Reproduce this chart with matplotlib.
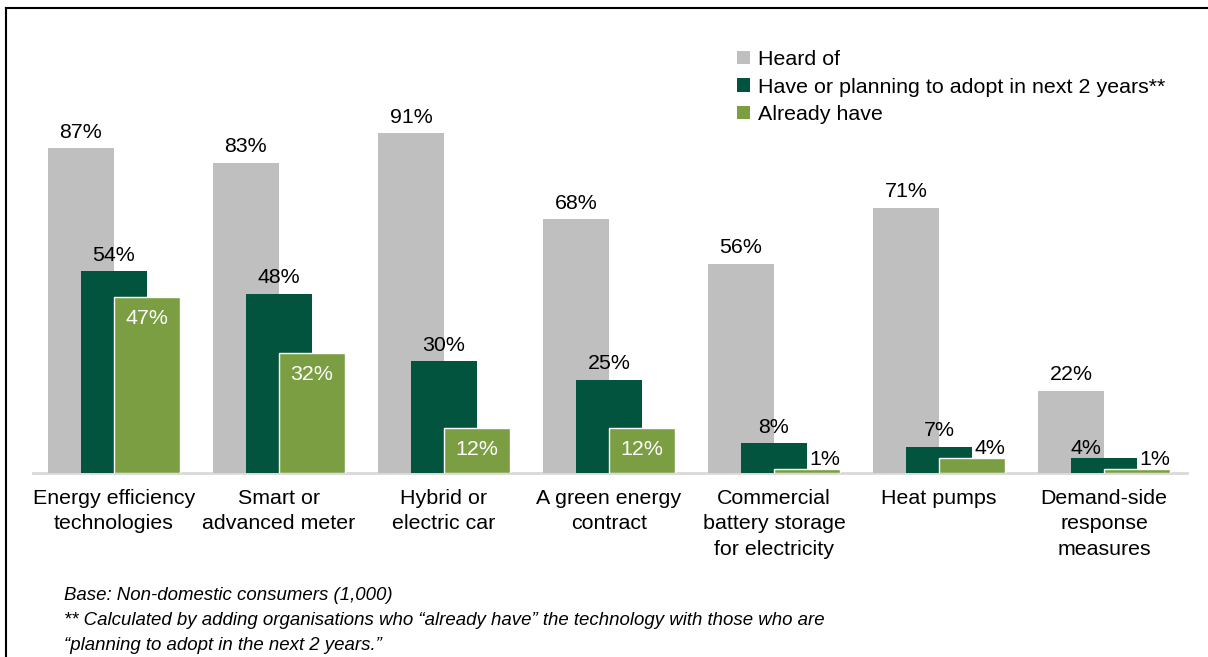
import matplotlib
matplotlib.use("Agg")
import matplotlib.pyplot as plt
from matplotlib.lines import Line2D
from matplotlib.patches import Patch
import numpy as np

plt.rcParams['font.family'] = ['Liberation Sans', 'DejaVu Sans']

categories = [
    "Energy efficiency\ntechnologies",
    "Smart or\nadvanced meter",
    "Hybrid or\nelectric car",
    "A green energy\ncontract",
    "Commercial\nbattery storage\nfor electricity",
    "Heat pumps",
    "Demand-side\nresponse\nmeasures",
]
heard_of = [87, 83, 91, 68, 56, 71, 22]
have_or_planning = [54, 48, 30, 25, 8, 7, 4]
already_have = [47, 32, 12, 12, 1, 4, 1]

series_names = ["Heard of", "Have or planning to adopt in next 2 years**", "Already have"]
footnotes = [
    "Base: Non-domestic consumers (1,000)",
    "** Calculated by adding organisations who \u201calready have\u201d the technology with those who are",
    "\u201cplanning to adopt in the next 2 years.\u201d",
]

GREY = "#BFBFBF"
DARK = "#03543F"
LIGHT = "#7B9E43"
FS = 15.4

W, H = 1208, 657
fig = plt.figure(figsize=(W / 100, H / 100), dpi=100)
ax = fig.add_axes([33 / W, (H - 473) / H, (1187 - 33) / W, (473 - 99.4) / H])

x = np.arange(len(categories))
bw = 0.4
b_grey = ax.bar(x - 0.2, heard_of, bw, color=GREY, zorder=2, linewidth=0)
b_dark = ax.bar(x, have_or_planning, bw, color=DARK, zorder=3, linewidth=0)
b_light = ax.bar(x + 0.2, already_have, bw, color=LIGHT, zorder=4,
                 edgecolor="white", linewidth=1.0)

ax.set_xlim(-0.49, 6.503)
ax.set_ylim(0, 100)
for s in ["top", "right", "left"]:
    ax.spines[s].set_visible(False)
ax.spines["bottom"].set_color("#D9D9D9")
ax.spines["bottom"].set_linewidth(2)
ax.spines["bottom"].set_zorder(1)
ax.set_yticks([])
ax.set_xticks(x)
ax.set_xticklabels(categories, fontsize=FS, color="black", linespacing=1.43)
ax.tick_params(axis="x", length=0, pad=11.5)

# value labels above bars
def above(xc, v, dx=0.0, dy=7.5, ha="center"):
    ax.annotate(f"{v}%", (xc, v), xytext=(dx, dy), textcoords="offset points",
                ha=ha, va="baseline", fontsize=FS, color="black", zorder=6)

for i in range(len(categories)):
    above(x[i] - 0.2, heard_of[i])
    if i == 6:
        above(x[i], have_or_planning[i], dx=-13, dy=3)
    else:
        above(x[i], have_or_planning[i])
    v = already_have[i]
    if v >= 10:
        ax.annotate(f"{v}%", (x[i] + 0.2, v), xytext=(0, -19), textcoords="offset points",
                    ha="center", va="baseline", fontsize=FS, color="white", zorder=6)
    else:
        above(x[i] + 0.2, v, dx=1.5, dy=3, ha="left")

handles = [Patch(facecolor=c, edgecolor="none") for c in (GREY, DARK, LIGHT)]
fig.legend(handles, series_names, loc="upper left", bbox_to_anchor=(737 / W, 1 - 50 / H),
           frameon=False, fontsize=FS, handlelength=0.6, handleheight=0.6,
           handletextpad=0.4, labelspacing=0.4, borderaxespad=0, borderpad=0)

for k, line in enumerate(footnotes):
    fig.text(64 / W, 1 - (595 + 25.5 * k) / H, line, fontsize=13.45, style="italic",
             ha="left", va="center", color="black")

# frame lines along the top and left edge
fig.add_artist(Line2D([6 / W, 6 / W], [0, 1 - 8 / H], color="black", lw=1.5,
                      transform=fig.transFigure))
fig.add_artist(Line2D([6 / W, 1], [1 - 8 / H, 1 - 8 / H], color="black", lw=1.5,
                      transform=fig.transFigure))

fig.savefig("out.png", dpi=100)
